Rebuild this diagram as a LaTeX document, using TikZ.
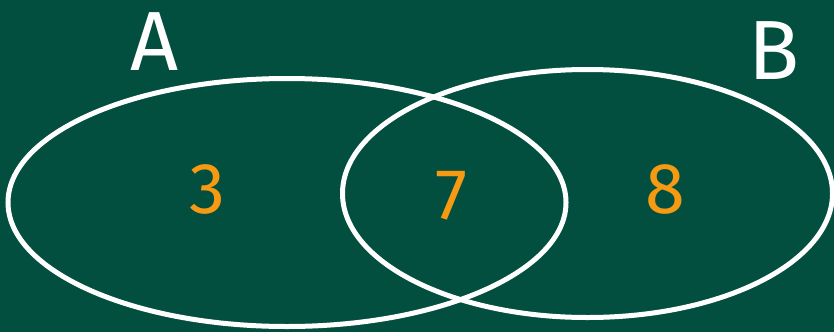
\documentclass[tikz,border=0pt]{standalone}
\usepackage{fontspec}
\setsansfont{Fira Sans}
\definecolor{board}{HTML}{024F40}
\definecolor{chalkorange}{HTML}{F59A12}
\begin{document}
\begin{tikzpicture}[x=1pt,y=-1pt,
  setline/.style={draw=white,line width=5pt},
  setlabel/.style={text=white,font=\sffamily\fontsize{84}{84}\selectfont,inner sep=0pt},
  count/.style={text=chalkorange,font=\sffamily\fontsize{72}{72}\selectfont,inner sep=0pt}]
\fill[board] (0,0) rectangle (834,332);
\useasboundingbox (0,0) rectangle (834,332);
\draw[setline] (287,202.5) ellipse [x radius=279, y radius=124];
\draw[setline] (587.5,193.5) ellipse [x radius=245, y radius=124];
\node[setlabel] (A) at (155,42) {A};
\node[setlabel] (B) at (774,51) {B};
\node[count] (n3) at (207,189) {3};
\node[count] (n7) at (451,196) {7};
\node[count] (n8) at (665,189) {8};
\end{tikzpicture}
\end{document}
